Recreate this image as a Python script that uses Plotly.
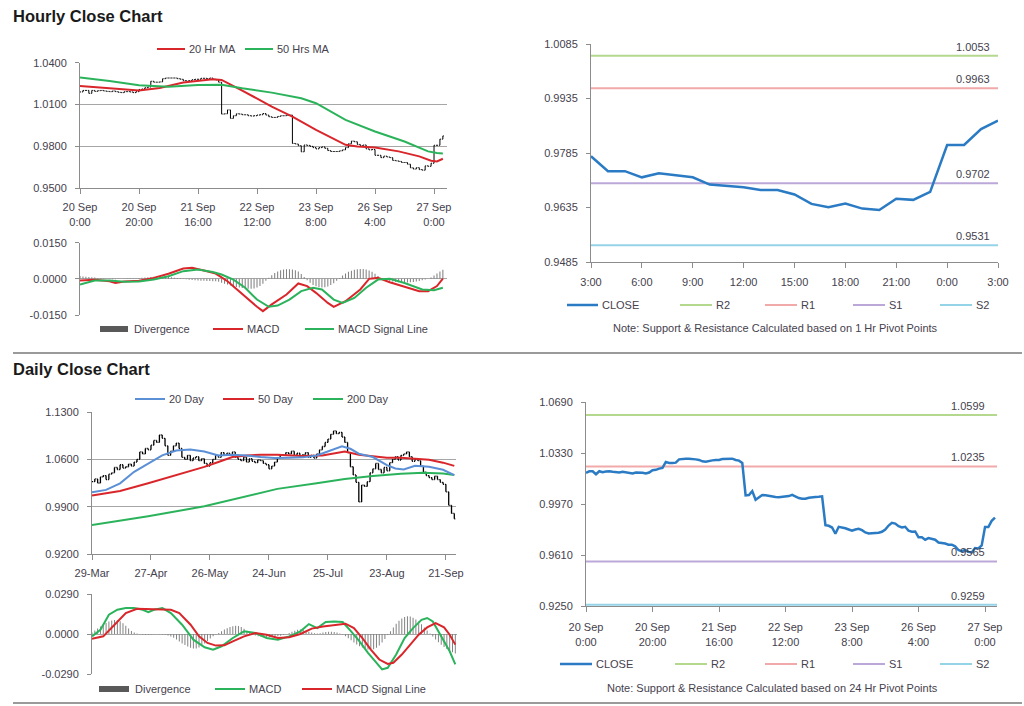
import plotly.graph_objects as go

W, H = 1024, 706
def fx(px): return px / W
def fy(py): return 1 - py / H

# ---------------- DATA ----------------
# Hourly closes, 20 Sep 0:00 -> 27 Sep 3:00 (trading hours)
h_close = [1.0190, 1.0201, 1.0201, 1.0180, 1.0201, 1.0194, 1.0199, 1.0201, 1.0197, 1.0194,
           1.0192, 1.0197, 1.0192, 1.0187, 1.0185, 1.0192, 1.0192, 1.0190, 1.0185, 1.0192,
           1.0208, 1.0211, 1.0220, 1.0225, 1.0267, 1.0260, 1.0260, 1.0262, 1.0285, 1.0290,
           1.0290, 1.0290, 1.0290, 1.0285, 1.0281, 1.0271, 1.0269, 1.0271, 1.0278, 1.0281,
           1.0281, 1.0288, 1.0288, 1.0285, 1.0290, 1.0281, 1.0276, 1.0260, 1.0031, 1.0033,
           1.0061, 1.0000, 1.0019, 1.0033, 1.0031, 1.0026, 1.0026, 1.0019, 1.0017, 1.0019,
           1.0024, 1.0026, 1.0035, 1.0024, 1.0012, 1.0007, 1.0007, 1.0014, 1.0019, 1.0019,
           1.0021, 1.0024, 0.9820, 0.9816, 0.9804, 0.9760, 0.9809, 0.9806, 0.9799, 0.9790,
           0.9781, 0.9790, 0.9795, 0.9785, 0.9769, 0.9762, 0.9762, 0.9762, 0.9767, 0.9774,
           0.9790, 0.9818, 0.9837, 0.9832, 0.9813, 0.9804, 0.9809, 0.9781, 0.9774, 0.9776,
           0.9735, 0.9735, 0.9718, 0.9729, 0.9723, 0.9718, 0.9698, 0.9695, 0.9691, 0.9683,
           0.9683, 0.9671, 0.9645, 0.9636, 0.9646, 0.9632, 0.9628, 0.9659, 0.9656, 0.9678,
           0.9807, 0.9807, 0.9851, 0.9874]
h_ticks = [0, 20, 40, 60, 80, 100, 120]
h_ticktext = ["20 Sep<br>0:00", "20 Sep<br>20:00", "21 Sep<br>16:00", "22 Sep<br>12:00",
              "23 Sep<br>8:00", "26 Sep<br>4:00", "27 Sep<br>0:00"]

h_ma20_x = [0, 10, 20, 27, 35, 45, 48, 55, 65, 72, 80, 90, 94, 100, 108, 115, 119, 121, 123]
h_ma20 = [1.0233, 1.0216, 1.0200, 1.0218, 1.0257, 1.0281, 1.0276, 1.0200, 1.0085, 1.0013,
          0.9918, 0.9810, 0.9798, 0.9791, 0.9763, 0.9727, 0.9696, 0.9691, 0.9710]
h_ma50_x = [0, 10, 20, 30, 40, 48, 55, 65, 75, 80, 90, 100, 110, 118, 121, 123]
h_ma50 = [1.0293, 1.0269, 1.0238, 1.0228, 1.0240, 1.0242, 1.0216, 1.0185, 1.0145, 1.0109,
          0.9989, 0.9906, 0.9834, 0.9763, 0.9751, 0.9748]

h_macd_x = [0, 5, 10, 12, 15, 20, 25, 30, 35, 38, 42, 46, 50, 55, 60, 62, 65, 70, 74, 77,
            80, 84, 86, 90, 95, 98, 101, 105, 110, 115, 118, 121, 123]
h_macd = [-0.0007, -0.0004, -0.0010, -0.0017, -0.0011, -0.0008, 0.0004, 0.0021, 0.0043, 0.0046,
          0.0035, 0.0022, -0.0010, -0.0065, -0.0116, -0.0134, -0.0106, -0.0065, -0.0019, -0.0030,
          -0.0058, -0.0100, -0.0116, -0.0093, -0.0044, 0.0000, 0.0004, -0.0014, -0.0033, -0.0051,
          -0.0051, -0.0030, 0.0001]
h_sig_x = [0, 5, 10, 15, 20, 25, 30, 35, 40, 45, 48, 52, 56, 60, 64, 67, 71, 75, 79, 82,
           86, 89, 93, 97, 101, 105, 110, 116, 120, 123]
h_sig = [-0.0024, -0.0007, -0.0007, -0.0012, -0.0011, -0.0003, 0.0011, 0.0032, 0.0039, 0.0028,
         0.0018, -0.0003, -0.0037, -0.0086, -0.0116, -0.0111, -0.0086, -0.0051, -0.0037, -0.0044,
         -0.0086, -0.0100, -0.0079, -0.0037, -0.0003, 0.0000, -0.0017, -0.0044, -0.0047, -0.0037]
h_div = [0.0012, 0.0010, 0.0009, 0.0008, 0.0007, 0.0006, 0.0004, 0.0002,
         0.0001, 0.0000, -0.0001, -0.0002, -0.0002, -0.0001, 0.0000, 0.0001, 0.0002, 0.0002, 0.0003, 0.0003,
         0.0004, 0.0005, 0.0006, 0.0007, 0.0008, 0.0009, 0.0010, 0.0010, 0.0010, 0.0009, 0.0008, 0.0007,
         0.0005, 0.0004, 0.0002, 0.0001,
         -0.0002, -0.0004, -0.0005, -0.0006, -0.0007, -0.0008, -0.0008, -0.0009, -0.0009, -0.0010, -0.0010, -0.0012,
         -0.0016, -0.0020, -0.0024, -0.0028, -0.0031, -0.0034, -0.0036, -0.0038, -0.0040, -0.0041, -0.0041,
         -0.0040, -0.0036, -0.0030, -0.0020, -0.0008,
         0.0005, 0.0015, 0.0024, 0.0031, 0.0036, 0.0039, 0.0040, 0.0040, 0.0039, 0.0036, 0.0030, 0.0020,
         0.0008, -0.0006, -0.0016, -0.0025, -0.0031, -0.0035, -0.0036, -0.0035, -0.0032, -0.0026, -0.0018, -0.0008,
         0.0004, 0.0014, 0.0022, 0.0029, 0.0034, 0.0038, 0.0040, 0.0041, 0.0041, 0.0039, 0.0035, 0.0029,
         0.0021, 0.0012, 0.0004, -0.0002,
         -0.0006, -0.0009, -0.0011, -0.0013, -0.0014, -0.0015, -0.0015, -0.0015, -0.0014, -0.0013, -0.0011,
         -0.0009, -0.0006, -0.0003, 0.0000,
         0.0006, 0.0014, 0.0022, 0.0030, 0.0038]

# Last 24 hours (26 Sep 3:00 -> 27 Sep 3:00) with 1 Hr pivot levels
hr_start = 99
hr_ticks = [0, 3, 6, 9, 12, 15, 18, 21, 24]
hr_ticktext = ["3:00", "6:00", "9:00", "12:00", "15:00", "18:00", "21:00", "0:00", "3:00"]
hr_levels = {"R2": 1.0053, "R1": 0.9963, "S1": 0.9702, "S2": 0.9531}

# 24 Hr pivot levels
d_levels = {"R2": 1.0599, "R1": 1.0235, "S1": 0.9565, "S2": 0.9259}

# Daily closes, 29-Mar -> 27-Sep
d_close = [1.027, 1.031, 1.025, 1.034, 1.036, 1.030, 1.038, 1.040, 1.048, 1.045,
           1.052, 1.047, 1.049, 1.053, 1.050, 1.056, 1.060, 1.071, 1.068, 1.076,
           1.074, 1.081, 1.088, 1.085, 1.096, 1.091, 1.080, 1.066, 1.072, 1.080,
           1.084, 1.076, 1.063, 1.060, 1.066, 1.058, 1.062, 1.064, 1.058, 1.061,
           1.054, 1.050, 1.055, 1.060, 1.066, 1.063, 1.070, 1.066, 1.069, 1.067,
           1.071, 1.063, 1.060, 1.058, 1.063, 1.056, 1.061, 1.057, 1.055, 1.059,
           1.058, 1.054, 1.052, 1.046, 1.050, 1.056, 1.062, 1.067, 1.066, 1.070,
           1.068, 1.072, 1.066, 1.069, 1.064, 1.067, 1.070, 1.063, 1.066, 1.062,
           1.068, 1.074, 1.079, 1.085, 1.090, 1.097, 1.102, 1.098, 1.100, 1.093,
           1.085, 1.070, 1.049, 1.037, 1.026, 0.997, 1.022, 1.020, 1.027, 1.040,
           1.046, 1.054, 1.045, 1.040, 1.048, 1.043, 1.055, 1.060, 1.064, 1.059,
           1.066, 1.068, 1.071, 1.064, 1.057, 1.060, 1.058, 1.050, 1.041, 1.036,
           1.033, 1.030, 1.035, 1.030, 1.026, 1.023, 1.012, 0.992, 0.980, 0.972]
d_ticks = [0, 21, 42, 63, 84, 105, 126]
d_ticktext = ["29-Mar", "27-Apr", "26-May", "24-Jun", "25-Jul", "23-Aug", "21-Sep"]

d_ma20_x = [0, 5, 10, 15, 20, 25, 30, 35, 40, 45, 50, 55, 60, 65, 70, 75, 80, 85, 89, 92,
            95, 100, 105, 108, 111, 115, 120, 125, 129]
d_ma20 = [1.0114, 1.0148, 1.0245, 1.0415, 1.0537, 1.0658, 1.0731, 1.0746, 1.0717, 1.0658,
          1.0668, 1.0658, 1.0634, 1.0619, 1.0624, 1.0629, 1.0658, 1.0731, 1.0794, 1.0756,
          1.0683, 1.0634, 1.0513, 1.0464, 1.0450, 1.0505, 1.0490, 1.0445, 1.0367]
d_ma50_x = [0, 10, 20, 30, 40, 45, 50, 55, 60, 66, 75, 82, 86, 90, 95, 100, 105, 110, 115,
            120, 125, 129]
d_ma50 = [1.0065, 1.0133, 1.0245, 1.0367, 1.0488, 1.0561, 1.0634, 1.0658, 1.0668, 1.0668,
          1.0649, 1.0658, 1.0692, 1.0717, 1.0668, 1.0644, 1.0624, 1.0624, 1.0610, 1.0595,
          1.0551, 1.0503]
d_ma200_x = [0, 20, 40, 60, 66, 80, 90, 100, 110, 118, 125, 129]
d_ma200 = [0.9628, 0.9759, 0.9905, 1.0100, 1.0163, 1.0245, 1.0308, 1.0352, 1.0386, 1.0401,
           1.0391, 1.0367]

d_macd_x = [0, 3, 6, 9, 12, 15, 18, 20, 22, 25, 28, 32, 36, 40, 43, 46, 50, 54, 58, 62,
            66, 70, 74, 77, 80, 83, 86, 89, 92, 95, 98, 101, 103, 105, 108, 111, 114, 117,
            119, 121, 124, 127, 129]
d_macd = [-0.0017, 0.0031, 0.0140, 0.0176, 0.0188, 0.0188, 0.0176, 0.0159, 0.0176, 0.0188,
          0.0152, 0.0067, -0.0041, -0.0096, -0.0113, -0.0089, -0.0029, 0.0019, 0.0007, -0.0029,
          -0.0041, -0.0017, 0.0019, 0.0072, 0.0043, 0.0087, 0.0091, 0.0087, 0.0019, -0.0053,
          -0.0137, -0.0209, -0.0257, -0.0245, -0.0149, -0.0029, 0.0043, 0.0103, 0.0116, 0.0091,
          -0.0017, -0.0125, -0.0221]
d_sig_x = [0, 4, 8, 12, 16, 20, 24, 28, 31, 35, 38, 41, 44, 47, 50, 54, 58, 62, 66, 70,
           74, 78, 82, 86, 90, 93, 96, 99, 102, 105, 107, 110, 113, 116, 119, 122, 125, 127, 129]
d_sig = [-0.0034, -0.0017, 0.0067, 0.0152, 0.0183, 0.0181, 0.0176, 0.0176, 0.0152, 0.0067,
         -0.0017, -0.0065, -0.0084, -0.0082, -0.0053, -0.0017, 0.0007, -0.0005, -0.0029, -0.0024,
         0.0000, 0.0039, 0.0055, 0.0067, 0.0075, 0.0043, -0.0029, -0.0113, -0.0185, -0.0217,
         -0.0209, -0.0149, -0.0077, -0.0005, 0.0048, 0.0079, 0.0048, -0.0005, -0.0077]
d_div = [0.0010, 0.0025, 0.0040, 0.0055, 0.0068, 0.0080, 0.0090, 0.0098, 0.0102, 0.0100,
         0.0092, 0.0078, 0.0060, 0.0040, 0.0022,
         0.0010, 0.0003, -0.0002, -0.0004, -0.0005, -0.0006, -0.0004, -0.0002, 0.0000, -0.0002,
         -0.0004, -0.0006, -0.0010, -0.0018, -0.0028,
         -0.0040, -0.0054, -0.0068, -0.0080, -0.0090, -0.0100, -0.0106, -0.0105, -0.0098, -0.0085,
         -0.0068, -0.0050, -0.0032, -0.0016, -0.0004,
         0.0008, 0.0020, 0.0032, 0.0042, 0.0050, 0.0056, 0.0060, 0.0058, 0.0050, 0.0038,
         0.0024, 0.0010, -0.0002, -0.0010, -0.0016,
         -0.0020, -0.0022, -0.0024, -0.0024, -0.0022, -0.0020, -0.0016, -0.0012, -0.0006, 0.0000,
         0.0008, 0.0016, 0.0024, 0.0030, 0.0032,
         0.0030, 0.0024, 0.0016, 0.0010, 0.0006, 0.0004, 0.0006, 0.0010, 0.0014, 0.0016,
         0.0016, 0.0014, 0.0010, 0.0004, -0.0004,
         -0.0016, -0.0030, -0.0046, -0.0062, -0.0076, -0.0088, -0.0098, -0.0106, -0.0112, -0.0113,
         -0.0110, -0.0100, -0.0084, -0.0062, -0.0036,
         -0.0008, 0.0020, 0.0048, 0.0074, 0.0096, 0.0112, 0.0124, 0.0128, 0.0126, 0.0118,
         0.0106, 0.0090, 0.0070, 0.0048, 0.0026,
         0.0004, -0.0018, -0.0040, -0.0060, -0.0078, -0.0094, -0.0108, -0.0120, -0.0132, -0.0142]

h_price_ticks = [0.95, 0.98, 1.01, 1.04]
h_price_text = ["0.9500", "0.9800", "1.0100", "1.0400"]
h_macd_ticks = [-0.015, 0.0, 0.015]
h_macd_text = ["-0.0150", "0.0000", "0.0150"]
hr_price_ticks = [0.9485, 0.9635, 0.9785, 0.9935, 1.0085]
hr_price_text = ["0.9485", "0.9635", "0.9785", "0.9935", "1.0085"]
d_price_ticks = [0.92, 0.99, 1.06, 1.13]
d_price_text = ["0.9200", "0.9900", "1.0600", "1.1300"]
d_macd_ticks = [-0.029, 0.0, 0.029]
d_macd_text = ["-0.0290", "0.0000", "0.0290"]
br_price_ticks = [0.925, 0.961, 0.997, 1.033, 1.069]
br_price_text = ["0.9250", "0.9610", "0.9970", "1.0330", "1.0690"]

# ---------------- STYLE ----------------
FONT = "Liberation Sans, Arial, sans-serif"
TXT = "#45414d"
GRID = "#a6a6a6"
AX = "#8c8c8c"
RED = "#d9262b"
GREEN = "#2bb35b"
BLUE = "#5b8fd6"
CLOSE_C = "#2a7bc4"
LV_C = {"R2": "#b5d88f", "R1": "#f2a9a9", "S1": "#bba8d8", "S2": "#95d4e8"}
DIV_C = "#808080"

fig = go.Figure()

def ohlc(closes, xa, ya, lw=1):
    opens = [closes[0]] + closes[:-1]
    highs = [max(o, c) for o, c in zip(opens, closes)]
    lows = [min(o, c) for o, c in zip(opens, closes)]
    fig.add_trace(go.Ohlc(x=list(range(len(closes))), open=opens, high=highs, low=lows,
                          close=closes, xaxis=xa, yaxis=ya, showlegend=False,
                          increasing_line_color="black", decreasing_line_color="black",
                          line_width=lw, tickwidth=0.35, hoverinfo="skip"))

def line(x, y, color, xa, ya, width=2):
    fig.add_trace(go.Scatter(x=x, y=y, mode="lines", line=dict(color=color, width=width),
                             xaxis=xa, yaxis=ya, showlegend=False, hoverinfo="skip"))

def bars(y, xa, ya):
    fig.add_trace(go.Bar(x=list(range(len(y))), y=y, width=0.35, marker_color=DIV_C,
                         marker_line_width=0, xaxis=xa, yaxis=ya, showlegend=False,
                         hoverinfo="skip"))

# Hourly main
ohlc(h_close, "x", "y")
line(h_ma20_x, h_ma20, RED, "x", "y")
line(h_ma50_x, h_ma50, GREEN, "x", "y")
# Hourly MACD
bars(h_div, "x2", "y2")
line(h_macd_x, h_macd, RED, "x2", "y2")
line(h_sig_x, h_sig, GREEN, "x2", "y2")
# Last 24h with 1Hr pivots
hr_close = h_close[hr_start:]
for k in ["R2", "R1", "S1", "S2"]:
    line([0, len(hr_close) - 1], [hr_levels[k]] * 2, LV_C[k], "x3", "y3", 2)
line(list(range(len(hr_close))), hr_close, CLOSE_C, "x3", "y3", 2.5)
# Daily main
ohlc(d_close, "x4", "y4", 1.3)
line(d_ma200_x, d_ma200, GREEN, "x4", "y4")
line(d_ma50_x, d_ma50, RED, "x4", "y4")
line(d_ma20_x, d_ma20, BLUE, "x4", "y4")
# Daily MACD
bars(d_div, "x5", "y5")
line(d_macd_x, d_macd, GREEN, "x5", "y5")
line(d_sig_x, d_sig, RED, "x5", "y5")
# Hourly close with 24Hr pivots
for k in ["R2", "R1", "S1", "S2"]:
    line([0, 123.6], [d_levels[k]] * 2, LV_C[k], "x6", "y6", 2)
line(list(range(len(h_close))), h_close, CLOSE_C, "x6", "y6", 2.5)

tf = dict(family=FONT, size=11, color=TXT)

def xax(dom, rng, anchor, tickvals=None, ticktext=None, show=True, standoff=4):
    d = dict(domain=[fx(dom[0]), fx(dom[1])], range=rng, anchor=anchor, showgrid=False,
             zeroline=False, tickfont=tf, fixedrange=True, automargin=False,
             rangeslider=dict(visible=False))
    if show:
        d.update(showline=True, linecolor=AX, linewidth=1, ticks="outside", ticklen=5,
                 tickcolor=AX, tickmode="array", tickvals=tickvals, ticktext=ticktext,
                 ticklabelstandoff=standoff)
    else:
        d.update(showline=False, showticklabels=False, ticks="")
    return d

def yax(dom, rng, anchor, tickvals, ticktext, grid):
    return dict(domain=[fy(dom[1]), fy(dom[0])], range=rng, anchor=anchor,
                showgrid=grid, gridcolor=GRID, gridwidth=1, zeroline=False,
                showline=True, linecolor=AX, linewidth=1, ticks="outside", ticklen=4,
                tickcolor=AX, tickmode="array", tickvals=tickvals, ticktext=ticktext,
                tickfont=tf, fixedrange=True, automargin=False, ticklabelstandoff=6)

layout = dict(
    template="none",
    width=W, height=H, margin=dict(l=0, r=0, t=0, b=0, pad=0), autosize=False,
    paper_bgcolor="white", plot_bgcolor="white", showlegend=False,
    font=dict(family=FONT, color=TXT, size=11),
    xaxis=xax((80, 447), [0, 124.4], "y", h_ticks, h_ticktext, standoff=4),
    yaxis=yax((62.7, 188), [0.95, 1.04], "x", h_price_ticks, h_price_text, True),
    xaxis2=xax((80, 447), [0, 124.4], "y2", show=False),
    yaxis2=yax((242.7, 315), [-0.015, 0.015], "x2", h_macd_ticks, h_macd_text, True),
    xaxis3=xax((591, 998), [0, 24], "y3", hr_ticks, hr_ticktext, standoff=5),
    yaxis3=yax((44, 262), [0.9485, 1.0085], "x3", hr_price_ticks, hr_price_text, False),
    xaxis4=xax((92, 456), [0, 129.6], "y4", d_ticks, d_ticktext, standoff=4),
    yaxis4=yax((412, 554), [0.92, 1.13], "x4", d_price_ticks, d_price_text, True),
    xaxis5=xax((92, 457), [0, 129.6], "y5", show=False),
    yaxis5=yax((594, 674), [-0.029, 0.029], "x5", d_macd_ticks, d_macd_text, True),
    xaxis6=xax((586, 997), [0, 123.6], "y6", h_ticks, h_ticktext, standoff=6),
    yaxis6=yax((402, 606), [0.925, 1.069], "x6", br_price_ticks, br_price_text, False),
)
fig.update_layout(**layout)

shapes = []
annots = []

def sep(py):
    shapes.append(dict(type="line", xref="paper", yref="paper", x0=fx(13), x1=fx(1022),
                       y0=fy(py), y1=fy(py), line=dict(color="#9a9a9a", width=2)))

def title(text, px, py):
    annots.append(dict(text="<b>%s</b>" % text, xref="paper", yref="paper", x=fx(px), y=fy(py),
                       xanchor="left", yanchor="middle", showarrow=False,
                       font=dict(family=FONT, size=16.5, color="#1a1a1a")))

def text(t, px, py, anchor="left", size=11):
    annots.append(dict(text=t, xref="paper", yref="paper", x=fx(px), y=fy(py),
                       xanchor=anchor, yanchor="middle", showarrow=False,
                       font=dict(family=FONT, size=size, color=TXT)))

def leg_line(x0, x1, py, color, label, width=2):
    shapes.append(dict(type="line", xref="paper", yref="paper", x0=fx(x0), x1=fx(x1),
                       y0=fy(py), y1=fy(py), line=dict(color=color, width=width)))
    text(label, x1 + 2, py)

def leg_box(x0, x1, py, color, label):
    shapes.append(dict(type="rect", xref="paper", yref="paper", x0=fx(x0), x1=fx(x1),
                       y0=fy(py + 3), y1=fy(py - 3), fillcolor=color, line=dict(width=0)))
    text(label, x1 + 4, py)

sep(353)
sep(703)
title("Hourly Close Chart", 11, 16)
title("Daily Close Chart", 11, 369)

# legends
leg_line(157, 185, 49, RED, "20 Hr MA")
leg_line(245, 273, 49, GREEN, "50 Hrs MA")
leg_box(100, 128, 329, "#595959", "Divergence")
leg_line(213, 243, 329, RED, "MACD")
leg_line(305, 334, 329, GREEN, "MACD Signal Line")

leg_line(567, 598, 305, CLOSE_C, "CLOSE", 2.5)
leg_line(680, 712, 305, LV_C["R2"], "R2")
leg_line(765, 797, 305, LV_C["R1"], "R1")
leg_line(853, 885, 305, LV_C["S1"], "S1")
leg_line(940, 972, 305, LV_C["S2"], "S2")
text("Note: Support & Resistance Calculated based on 1 Hr Pivot Points", 775, 328, "center")

leg_line(135, 165, 399, BLUE, "20 Day")
leg_line(223, 254, 399, RED, "50 Day")
leg_line(313, 343, 399, GREEN, "200 Day")
leg_box(99, 129, 689, "#595959", "Divergence")
leg_line(215, 245, 689, GREEN, "MACD")
leg_line(302, 332, 689, RED, "MACD Signal Line")

leg_line(560, 592, 664, CLOSE_C, "CLOSE", 2.5)
leg_line(675, 707, 664, LV_C["R2"], "R2")
leg_line(765, 797, 664, LV_C["R1"], "R1")
leg_line(853, 885, 664, LV_C["S1"], "S1")
leg_line(940, 972, 664, LV_C["S2"], "S2")
text("Note: Support & Resistance Calculated based on 24 Hr Pivot Points", 772, 688, "center")

# level labels
for k, v in hr_levels.items():
    annots.append(dict(text="%.4f" % v, xref="x3", yref="y3", x=24, y=v, xanchor="right",
                       yanchor="bottom", xshift=-6, yshift=1, showarrow=False,
                       font=dict(family=FONT, size=11, color=TXT)))
for k, v in d_levels.items():
    annots.append(dict(text="%.4f" % v, xref="x6", yref="y6", x=123.6, y=v, xanchor="right",
                       yanchor="bottom", xshift=-10, yshift=1, showarrow=False,
                       font=dict(family=FONT, size=11, color=TXT)))

fig.update_layout(shapes=shapes, annotations=annots)
fig.write_html("out.html", config={"displayModeBar": False, "staticPlot": True})

# remove the default page margin so the figure starts at the window's top-left corner
with open("out.html", "r", encoding="utf-8") as f:
    page = f.read()
page = page.replace("<head>", "<head><style>html,body{margin:0;padding:0;overflow:hidden;}</style>", 1)
with open("out.html", "w", encoding="utf-8") as f:
    f.write(page)
